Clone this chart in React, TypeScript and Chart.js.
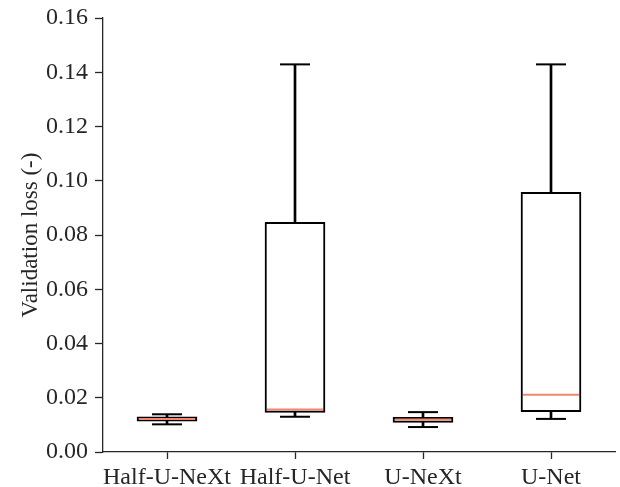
import React, { useEffect, useRef } from "react";
import { Chart, registerables } from "chart.js";

Chart.register(...registerables);

const categories = ["Half-U-NeXt", "Half-U-Net", "U-NeXt", "U-Net"];
const whiskerLow = [0.0102, 0.013, 0.0092, 0.0122];
const q1 = [0.0114, 0.0146, 0.0109, 0.0149];
const median = [0.0122, 0.0157, 0.012, 0.0211];
const q3 = [0.013, 0.0847, 0.0128, 0.0957];
const whiskerHigh = [0.0139, 0.1429, 0.0147, 0.1429];
const yTicks = [0, 0.02, 0.04, 0.06, 0.08, 0.1, 0.12, 0.14, 0.16];

const FONT = "'Liberation Serif', 'Times New Roman', serif";
const INK = "#262626";

const zeroPad = (s: any) => {
  s.paddingTop = 0;
  s.paddingBottom = 0;
  s.paddingLeft = 0;
  s.paddingRight = 0;
};

export default function App() {
  const ref = useRef<HTMLCanvasElement | null>(null);

  useEffect(() => {
    if (!ref.current) return;
    const caps: { x: string; y: number }[] = [];
    categories.forEach((c, i) => {
      caps.push({ x: c, y: whiskerLow[i] });
      caps.push({ x: c, y: whiskerHigh[i] });
    });
    const meds = categories.map((c, i) => ({ x: c, y: median[i] }));

    const chart = new Chart(ref.current, {
      type: "bar",
      data: {
        labels: categories,
        datasets: [
          {
            type: "bar",
            label: "whiskers",
            data: categories.map((_, i) => [whiskerLow[i], whiskerHigh[i]]),
            backgroundColor: "#000",
            borderWidth: 0,
            barThickness: 2,
            grouped: false,
            order: 4,
          } as any,
          {
            type: "bar",
            label: "box",
            data: categories.map((_, i) => [q1[i], q3[i]]),
            backgroundColor: "#ffffff",
            borderColor: "#000",
            borderWidth: 2,
            borderSkipped: false,
            barThickness: 60,
            grouped: false,
            order: 3,
          } as any,
          {
            type: "line",
            label: "caps",
            data: caps,
            showLine: false,
            pointStyle: "line",
            pointRadius: 15,
            pointHoverRadius: 15,
            pointBorderWidth: 2,
            pointBorderColor: "#000",
            borderColor: "#000",
            clip: false,
            order: 2,
          } as any,
          {
            type: "line",
            label: "median",
            data: meds,
            showLine: false,
            pointStyle: "line",
            pointRadius: 28,
            pointHoverRadius: 28,
            pointBorderWidth: 2,
            pointBorderColor: "#f58472",
            borderColor: "#f58472",
            clip: false,
            order: 1,
          } as any,
        ],
      },
      options: {
        animation: false,
        responsive: true,
        maintainAspectRatio: false,
        layout: { autoPadding: false, padding: { left: 0, right: 5, top: 18, bottom: 0 } },
        plugins: {
          legend: { display: false },
          tooltip: { enabled: false },
        },
        scales: {
          x: {
            type: "category",
            offset: true,
            grid: {
              display: true,
              drawOnChartArea: false,
              offset: false,
              tickLength: 7,
              tickWidth: 1.3,
              tickColor: INK,
            },
            border: { display: true, color: INK, width: 1.3 },
            ticks: {
              color: INK,
              font: { family: FONT, size: 24 },
              padding: 4,
              maxRotation: 0,
              autoSkip: false,
            },
            afterFit: (s: any) => {
              s.height = 35;
              zeroPad(s);
            },
          },
          y: {
            type: "linear",
            min: 0,
            max: 0.16,
            afterBuildTicks: (s: any) => {
              s.ticks = yTicks.map((v) => ({ value: v }));
            },
            grid: {
              display: true,
              drawOnChartArea: false,
              tickLength: 8,
              tickWidth: 1.3,
              tickColor: INK,
            },
            border: { display: true, color: INK, width: 1.3 },
            ticks: {
              color: INK,
              font: { family: FONT, size: 24 },
              padding: 7,
              callback: (v: any) => Number(v).toFixed(2),
            },
            title: {
              display: true,
              text: "Validation loss (-)",
              color: INK,
              font: { family: FONT, size: 23 },
              padding: { top: 17, bottom: 0 },
            },
            afterFit: (s: any) => {
              s.width = 103;
              zeroPad(s);
            },
          },
        },
      },
    });
    return () => chart.destroy();
  }, []);

  return (
    <div style={{ position: "absolute", left: 0, top: 0, width: 620, height: 487, background: "#fff" }}>
      <canvas ref={ref} />
    </div>
  );
}
